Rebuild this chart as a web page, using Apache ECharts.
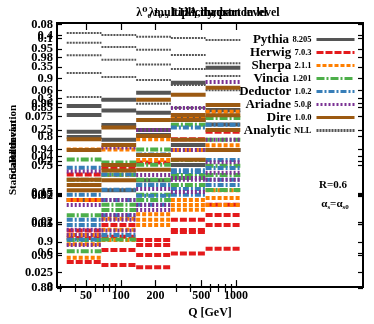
<!DOCTYPE html>
<html><head><meta charset="utf-8">
<script src="https://cdn.jsdelivr.net/npm/echarts@6/dist/echarts.min.js"></script>
<style>html,body{margin:0;padding:0;background:#fff}#c{width:374px;height:324px}</style>
</head><body><div id="c"></div><script>
// ---- data ----
const binEdges = [34, 68, 136, 272, 544, 1088];
const xLabelTicks = [50, 100, 200, 500, 1000];
const xMinorTicks = [30, 40, 60, 70, 80, 90, 300, 400, 600, 700, 800, 900];
const generators = ['Pythia', 'Herwig', 'Sherpa', 'Vincia', 'Deductor', 'Ariadne', 'Dire', 'Analytic'];
const versions = ['8.205', '7.0.3', '2.1.1', '1.201', '1.0.2', '5.0.β', '1.0.0', 'NLL'];

// panel A
const A_range = [0, 0.42];
const A_ticks = [0, 0.05, 0.1, 0.15, 0.2, 0.25, 0.3, 0.35, 0.4];
const A_pythia = [0.247, 0.298, 0.309, 0.325, 0.349];
const A_herwig = [0.179, 0.190, 0.198, 0.235, 0.247];
const A_sherpa = [0.219, 0.219, 0.235, 0.269, 0.279];
const A_vincia = [0.203, 0.198, 0.219, 0.258, 0.269];
const A_deductor = [0.190, 0.179, 0.211, 0.254, 0.258];
const A_ariadne = [0.184, 0.222, 0.250, 0.285, 0.326];
const A_dire = [0.235, 0.254, 0.298, 0.306, 0.317];
const A_analytic = [0.404, 0.401, 0.398, 0.396, 0.393];
// panel B1
const B1_range = [0.54, 0.995];
const B1_ticks = [0.6, 0.65, 0.7, 0.75, 0.8, 0.85, 0.9, 0.95];
const B1_pythia = [0.691, 0.708, 0.725, 0.751, 0.777];
const B1_herwig = [0.626, 0.628, 0.614, 0.657, 0.683];
const B1_sherpa = [0.592, 0.640, 0.657, 0.691, 0.708];
const B1_vincia = [0.665, 0.683, 0.691, 0.717, 0.734];
const B1_deductor = [0.648, 0.665, 0.683, 0.700, 0.717];
const B1_ariadne = [0.640, 0.657, 0.674, 0.729, 0.756];
const B1_dire = [0.708, 0.725, 0.743, 0.760, 0.777];
const B1_analytic = [0.961, 0.954, 0.949, 0.940, 0.926];
// panel B2
const B2_range = [0.88, 0.995];
const B2_ticks = [0.88, 0.9, 0.92, 0.94, 0.96, 0.98];
const B2_pythia = [0.959, 0.957, 0.956, 0.954, 0.951];
const B2_herwig = [0.905, 0.890, 0.889, 0.895, 0.897];
const B2_sherpa = [0.899, 0.910, 0.912, 0.914, 0.916];
const B2_vincia = [0.896, 0.901, 0.927, 0.929, 0.933];
const B2_deductor = [0.901, 0.903, 0.920, 0.923, 0.927];
const B2_ariadne = [0.903, 0.905, 0.923, 0.927, 0.930];
const B2_dire = [0.927, 0.931, 0.946, 0.953, 0.955];
const B2_analytic = [0.981, 0.979, 0.977, 0.975, 0.972];
// panel C
const C_range = [0, 0.0805];
const C_ticks = [0.02, 0.04, 0.06, 0.08];
const C_pythia = [0.0459, 0.0450, 0.0480, 0.0510, 0.0541];
const C_herwig = [0.0267, 0.0191, 0.0146, 0.0176, 0.0222];
const C_sherpa = [0.0267, 0.0343, 0.0389, 0.0419, 0.0434];
const C_vincia = [0.0146, 0.0237, 0.0283, 0.0389, 0.0450];
const C_deductor = [0.0207, 0.0267, 0.0313, 0.0358, 0.0389];
const C_ariadne = [0.0131, 0.0222, 0.0343, 0.0419, 0.0450];
const C_dire = [0.0313, 0.0374, 0.0404, 0.0450, 0.0480];
const C_analytic = [0.0653, 0.0641, 0.0632, 0.0617, 0.0601];
// panel D
const D_range = [0.02, 0.105];
const D_ticks = [0.025, 0.05, 0.075, 0.1];
const D_pythia = [0.0755, 0.0723, 0.0691, 0.0659, 0.0643];
const D_herwig = [0.0283, 0.0322, 0.0306, 0.0380, 0.0402];
const D_sherpa = [0.0370, 0.0354, 0.0402, 0.0466, 0.0489];
const D_vincia = [0.0547, 0.0563, 0.0595, 0.0553, 0.0514];
const D_deductor = [0.0499, 0.0515, 0.0531, 0.0572, 0.0585];
const D_ariadne = [0.0466, 0.0482, 0.0466, 0.0508, 0.0547];
const D_dire = [0.0643, 0.0659, 0.0739, 0.0755, 0.0787];
const D_analytic = [0.0813, 0.0803, 0.0791, 0.0778, 0.0765];

const titleTexts = ['λ⁰₀ multiplicity, parton level', 'λ¹₀.₅ LHA, hadron level', 'λ²₁ thrust'];
const yTitleTexts = ['Standard deviation', 'Scaled mean', 'Ratio'];

// ---- build ----
const panels = [
  {range: A_range, ticks: A_ticks, sets: [A_pythia, A_herwig, A_sherpa, A_vincia, A_deductor, A_ariadne, A_dire, A_analytic]},
  {range: B1_range, ticks: B1_ticks, sets: [B1_pythia, B1_herwig, B1_sherpa, B1_vincia, B1_deductor, B1_ariadne, B1_dire, B1_analytic]},
  {range: B2_range, ticks: B2_ticks, sets: [B2_pythia, B2_herwig, B2_sherpa, B2_vincia, B2_deductor, B2_ariadne, B2_dire, B2_analytic]},
  {range: C_range, ticks: C_ticks, sets: [C_pythia, C_herwig, C_sherpa, C_vincia, C_deductor, C_ariadne, C_dire, C_analytic]},
  {range: D_range, ticks: D_ticks, sets: [D_pythia, D_herwig, D_sherpa, D_vincia, D_deductor, D_ariadne, D_dire, D_analytic]}
];
const lineStyles = [
  {color: '#555555', type: 'solid', width: 4},
  {color: '#e41a1c', type: [7, 2], width: 4},
  {color: '#ff7f00', type: [4, 2], width: 4},
  {color: '#4daf4a', type: [8, 2, 2, 2], width: 4},
  {color: '#377eb8', type: [6, 2, 2, 2], width: 4},
  {color: '#7b3294', type: [2, 2], width: 4},
  {color: '#9c5a12', type: 'solid', width: 4},
  {color: '#555555', type: [2, 1], width: 2}
];
const FONT = "'Liberation Serif', 'DejaVu Serif', serif";
const lg = Math.log10;
const xMin = lg(28), xMax = lg(12600);

function segs(vals) {
  const d = [];
  vals.forEach((v, i) => {
    d.push([lg(binEdges[i]), v]);
    d.push([lg(binEdges[i + 1]), v]);
    d.push([lg(binEdges[i + 1]), '-']);
  });
  return d;
}
function fmt(v) { return String(+v.toFixed(3)); }

const gridPos = {left: 57, right: 11, top: 23, bottom: 36};
const grids = [], xAxes = [], yAxes = [], series = [];
const tickLine = {color: '#000', width: 1.2};
panels.forEach((p, i) => {
  grids.push(Object.assign({}, gridPos, i === 0 ? {show: true, borderColor: '#000', borderWidth: 2, z: 10} : {}));
  const xa = {type: 'value', gridIndex: i, min: xMin, max: xMax, splitLine: {show: false}, axisLine: {show: false},
    axisLabel: {show: false}, axisTick: {show: false}};
  if (i === 0) Object.assign(xa, {position: 'bottom', name: 'Q [GeV]', nameLocation: 'middle', nameGap: 18,
    nameTextStyle: {fontFamily: FONT, fontWeight: 'bold', fontSize: 12, color: '#000'},
    axisTick: {show: true, inside: true, length: 7, customValues: xLabelTicks.map(lg), lineStyle: tickLine},
    axisLabel: {show: true, customValues: xLabelTicks.map(lg), formatter: v => String(Math.round(Math.pow(10, v))), margin: 3,
      fontFamily: FONT, fontWeight: 'bold', fontSize: 12, color: '#000'}});
  if (i === 1) Object.assign(xa, {position: 'bottom', axisTick: {show: true, inside: true, length: 4, customValues: xMinorTicks.map(lg), lineStyle: tickLine}});
  if (i === 2) Object.assign(xa, {position: 'top', axisTick: {show: true, inside: true, length: 7, customValues: xLabelTicks.map(lg), lineStyle: tickLine}});
  if (i === 3) Object.assign(xa, {position: 'top', axisTick: {show: true, inside: true, length: 4, customValues: xMinorTicks.map(lg), lineStyle: tickLine}});
  xAxes.push(xa);
  yAxes.push({type: 'value', gridIndex: i, min: p.range[0], max: p.range[1], position: 'left',
    splitLine: {show: false}, axisLine: {show: false},
    axisTick: {show: true, inside: true, length: 5, customValues: p.ticks, lineStyle: tickLine},
    axisLabel: {customValues: p.ticks, formatter: fmt, margin: 4, color: '#000', fontFamily: FONT, fontWeight: 'bold', fontSize: 12.5}});
  p.sets.forEach((vals, k) => {
    series.push({type: 'line', name: generators[k], xAxisIndex: i, yAxisIndex: i, symbol: 'none', connectNulls: false,
      lineStyle: lineStyles[k], itemStyle: {color: lineStyles[k].color}, data: segs(vals), z: k === 7 ? 1 : 2 + k, animation: false});
  });
});
// right-side mirrored ticks
panels.forEach((p, i) => {
  yAxes.push({type: 'value', gridIndex: i, min: p.range[0], max: p.range[1], position: 'right',
    splitLine: {show: false}, axisLine: {show: false}, axisLabel: {show: false},
    axisTick: {show: true, inside: true, length: 5, customValues: p.ticks, lineStyle: tickLine}});
});

const graphics = [];
titleTexts.forEach(t => graphics.push({type: 'text', x: 208, y: 13, style: {text: t, fill: '#000',
  font: "bold 12px " + FONT, textAlign: 'center', textVerticalAlign: 'middle'}}));
yTitleTexts.forEach(t => graphics.push({type: 'text', x: 13, y: 150, rotation: Math.PI / 2, style: {text: t, fill: '#000',
  font: "bold 11px " + FONT, textAlign: 'center', textVerticalAlign: 'middle'}}));
graphics.push({type: 'text', x: 333, y: 185, style: {text: 'R=0.6', fill: '#000', font: "bold 11px " + FONT, textAlign: 'center', textVerticalAlign: 'middle'}});
graphics.push({type: 'text', x: 335, y: 204, style: {text: '{a|α}{s|s}{a|=α}{s|s0}', fill: '#000', textAlign: 'center', textVerticalAlign: 'middle',
  rich: {a: {font: "bold 11px " + FONT, lineHeight: 14, verticalAlign: 'middle'}, s: {font: "bold 7px " + FONT, lineHeight: 14, verticalAlign: 'bottom'}}}});

const chart = echarts.init(document.getElementById('c'), null, {renderer: 'canvas'});
chart.setOption({
  animation: false,
  backgroundColor: '#fff',
  grid: grids, xAxis: xAxes, yAxis: yAxes, series: series,
  legend: {orient: 'vertical', right: 18, top: 33, align: 'right', itemWidth: 38, itemHeight: 10, itemGap: 0,
    data: generators, backgroundColor: 'rgba(0,0,0,0)', padding: 0,
    itemStyle: {opacity: 0},
    lineStyle: {width: 3},
    formatter: name => '{n|' + name + '} {v|' + versions[generators.indexOf(name)] + '}',
    textStyle: {color: '#000', rich: {n: {fontFamily: FONT, fontWeight: 'bold', fontSize: 13, color: '#000', lineHeight: 13},
      v: {fontFamily: FONT, fontWeight: 'bold', fontSize: 8.5, color: '#000', lineHeight: 13}}}},
  graphic: graphics
});
</script></body></html>
